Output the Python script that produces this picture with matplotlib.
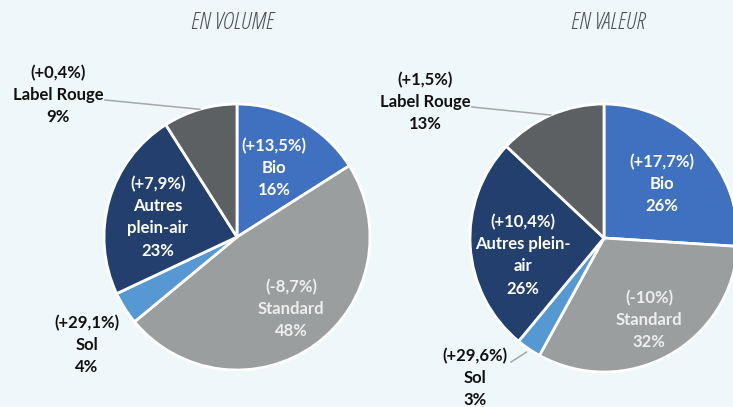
import numpy as np
import matplotlib.pyplot as plt

# Data: shares of laying-hen egg segments (volume / value) and yearly change
segments = ['Bio', 'Standard', 'Sol', 'Autres plein-air', 'Label Rouge']
volume_share = [16, 48, 4, 23, 9]
volume_change = ['+13,5%', '-8,7%', '+29,1%', '+7,9%', '+0,4%']
value_share = [26, 32, 3, 26, 13]
value_change = ['+17,7%', '-10%', '+29,6%', '+10,4%', '+1,5%']
volume_names = ['Bio', 'Standard', 'Sol', 'Autres\nplein-air', 'Label Rouge']
value_names = ['Bio', 'Standard', 'Sol', 'Autres plein-\nair', 'Label Rouge']

colors = ['#4070C0', '#9B9E9E', '#5598D2', '#223F6E', '#5D6062']
text_colors = ['white', '#EEEEEE', '#111111', 'white', '#111111']
bg = '#EEF7F9'

W, H = 733, 407
fig = plt.figure(figsize=(W / 100, H / 100), dpi=100, facecolor=bg)
ax = fig.add_axes([0, 0, 1, 1])
ax.set_facecolor(bg)

font = 'Lato'


def draw_pie(cx, cy, R, shares, changes, names, label_pos, leaders, title, tx):
    wedges, _ = ax.pie(shares, colors=colors, startangle=90, counterclock=False,
                       center=(cx, H - cy), radius=R,
                       wedgeprops=dict(edgecolor='white', linewidth=2))
    for i, w in enumerate(wedges):
        txt = f'({changes[i]})\n{names[i]}\n{shares[i]}%'
        px, py = label_pos[i]
        if i in leaders:
            mid = np.deg2rad((w.theta1 + w.theta2) / 2)
            ex = cx + R * leaders[i][0] * np.cos(mid)
            ey = H - cy + R * leaders[i][0] * np.sin(mid)
            lx, ly = leaders[i][1]
            ax.plot([lx, ex], [H - ly, ey], color='#A6A6A6', lw=1.1, zorder=1)
        ax.text(px, H - py, txt, ha='center', va='center', color=text_colors[i],
                fontsize=12, fontweight='bold', family=font, linespacing=1.48)
    ax.text(tx, H - 23, title, ha='center', va='center', color='#4A5055',
            fontsize=17, style='italic', family='Open Sans', fontstretch='condensed')


draw_pie(237, 237, 133, volume_share, volume_change, volume_names,
         [(274, 168), (291, 309), (87, 345), (158, 217), (58, 95)],
         {4: (1.0, (105, 100))},
         'EN VOLUME', 232)

draw_pie(604, 238, 134, value_share, value_change, value_names,
         [(662, 184), (649, 320), (475, 378), (523, 255), (425, 102)],
         {4: (1.0, (472, 107)), 2: (1.03, (511, 362))},
         'EN VALEUR', 608)

# pie() resets the limits, so fix the pixel-like frame afterwards
ax.set_xlim(0, W)
ax.set_ylim(0, H)
ax.set_aspect('equal')
ax.axis('off')

fig.savefig('out.png', dpi=100, facecolor=bg)
